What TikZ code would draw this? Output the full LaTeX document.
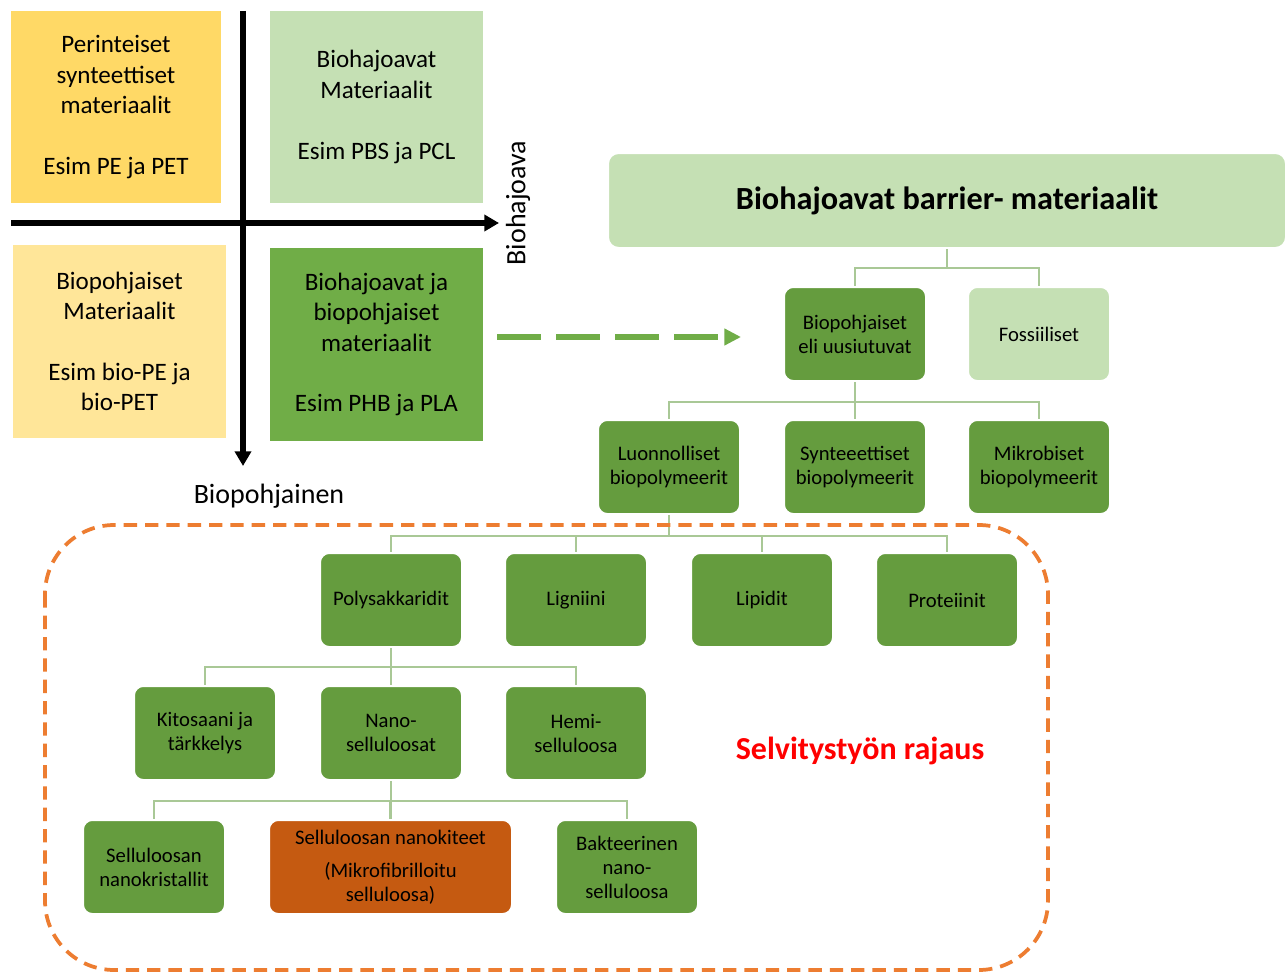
\documentclass[tikz,border=0pt]{standalone}
\usepackage{fontspec}
\setmainfont{Carlito}
\usetikzlibrary{arrows.meta}
\definecolor{gold}{RGB}{255,217,102}
\definecolor{paleyellow}{RGB}{255,230,153}
\definecolor{lightgreen}{RGB}{197,224,180}
\definecolor{midgreen}{RGB}{112,173,71}
\definecolor{orggreen}{RGB}{101,156,62}
\definecolor{orgorange}{RGB}{197,90,17}
\definecolor{dashorange}{RGB}{237,125,49}
\definecolor{linkgreen}{RGB}{169,200,150}
\definecolor{redtext}{RGB}{255,0,0}
\tikzset{
  quad/.style={rectangle, align=center, inner sep=0pt, font=\fontsize{18.8}{22.8}\selectfont},
  orgbox/.style={rectangle, rounded corners=7pt, draw=white, line width=1.5pt, fill=orggreen,
    minimum width=106.5pt, minimum height=70.5pt, align=center, inner sep=0pt,
    font=\fontsize{15.5}{18}\selectfont},
  link/.style={draw=linkgreen, line width=2.2pt},
  axis/.style={line width=4.2pt, -{Triangle[length=11pt,width=12pt]}},
}
\begin{document}
\begin{tikzpicture}[x=0.75pt,y=-0.75pt]
\useasboundingbox[fill=white] (0,0) rectangle (1286,974);

% quadrant boxes
\node[quad, fill=gold, minimum width=157.5pt, minimum height=144pt] (per) at (116,107)
  {Perinteiset\\synteettiset\\materiaalit\\[22.8pt]Esim PE ja PET};
\node[quad, fill=lightgreen, minimum width=159.75pt, minimum height=144pt] (bioh) at (376.5,107)
  {Biohajoavat\\Materiaalit\\[22.8pt]Esim PBS ja PCL};
\node[quad, fill=paleyellow, minimum width=159.75pt, minimum height=144.75pt] (biop) at (119.5,341.5)
  {Biopohjaiset\\Materiaalit\\[22.8pt]Esim bio-PE ja\\bio-PET};
\node[quad, fill=midgreen, minimum width=159.75pt, minimum height=144.75pt] (bjb) at (376.5,344.5)
  {Biohajoavat ja\\biopohjaiset\\materiaalit\\[22.8pt]Esim PHB ja PLA};

% axes
\coordinate (hx0) at (11,223);
\coordinate (hx1) at (499,223);
\coordinate (vy0) at (243,11);
\coordinate (vy1) at (243,466);
\draw[axis] (hx0) -- (hx1);
\draw[axis] (vy0) -- (vy1);
\node[font=\fontsize{21}{25}\selectfont] (lblbiop) at (269,496) {Biopohjainen};
\node[font=\fontsize{21}{25}\selectfont, rotate=90] (lblbioh) at (518,203) {Biohajoava};

% dashed arrow
\coordinate (da0) at (497,337);
\coordinate (da1) at (741,337);
\draw[draw=midgreen, line width=3.8pt, dash pattern=on 33pt off 11.25pt,
      -{Triangle[length=12.5pt,width=12pt]}, midgreen] (da0) -- (da1);

% org chart
\node[rectangle, rounded corners=8pt, draw=white, line width=1.5pt, fill=lightgreen,
      minimum width=508.5pt, minimum height=71.25pt,
      font=\bfseries\fontsize{24.2}{28}\selectfont] (top) at (947,200.5) {Biohajoavat barrier- materiaalit};

\node[orgbox] (biouus) at (855,334) {Biopohjaiset\\eli uusiutuvat};
\node[orgbox, fill=lightgreen] (foss) at (1039,334) {Fossiiliset};

\node[orgbox] (luo) at (669,467) {Luonnolliset\\biopolymeerit};
\node[orgbox] (syn) at (855,467) {Synteeettiset\\biopolymeerit};
\node[orgbox] (mik) at (1039,467) {Mikrobiset\\biopolymeerit};

\node[orgbox] (poly) at (391,600) {Polysakkaridit};
\node[orgbox] (lig) at (576,600) {Ligniini};
\node[orgbox] (lip) at (762,600) {Lipidit};
\node[orgbox] (pro) at (947,600) {Proteiinit};

\node[orgbox] (kit) at (205,733) {Kitosaani ja\\tärkkelys};
\node[orgbox] (nano) at (391,733) {Nano-\\selluloosat};
\node[orgbox] (hemi) at (576,733) {Hemi-\\selluloosa};

\node[orgbox] (snk) at (154,867) {Selluloosan\\nanokristallit};
\node[orgbox, fill=orgorange, minimum width=182.25pt] (snt) at (390.5,867)
  {Selluloosan nanokiteet\\[6.75pt](Mikrofibrilloitu\\selluloosa)};
\node[orgbox] (bak) at (627,867) {Bakteerinen\\nano-\\selluloosa};

\foreach \c in {biouus,foss} \draw[link] (top.south) -- ++(0,19) -| (\c.north);
\foreach \c in {luo,syn,mik} \draw[link] (biouus.south) -- ++(0,20) -| (\c.north);
\foreach \c in {poly,lig,lip,pro} \draw[link] (luo.south) -- ++(0,21) -| (\c.north);
\foreach \c in {kit,nano,hemi} \draw[link] (poly.south) -- ++(0,19) -| (\c.north);
\foreach \c in {snk,snt,bak} \draw[link] (nano.south) -- ++(0,20) -| (\c.north);

% scope frame
\draw[dashorange, line width=2.8pt, dash pattern=on 10pt off 6pt, rounded corners=52pt]
  (45,525) rectangle (1048,970);
\node[text=redtext, font=\bfseries\fontsize{24}{28}\selectfont] (rajaus) at (860,751) {Selvitystyön rajaus};
\end{tikzpicture}
\end{document}
